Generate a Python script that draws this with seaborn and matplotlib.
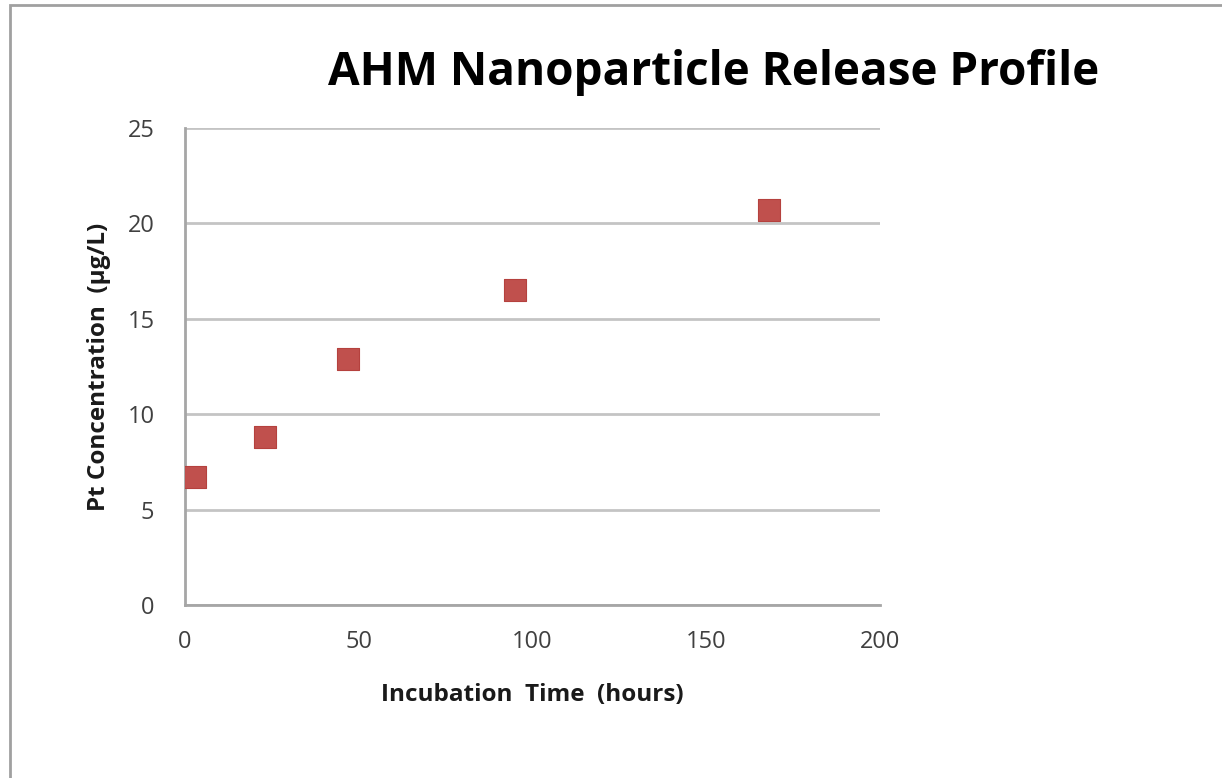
import matplotlib
matplotlib.use("Agg")
import matplotlib.pyplot as plt
import matplotlib.patches as mpatches
import seaborn as sns
import pandas as pd

# Data
time_hours = [3, 23, 47, 95, 168]
pt_conc = [6.7, 8.8, 12.9, 16.5, 20.7]
x_ticks = [0, 50, 100, 150, 200]
y_ticks = [0, 5, 10, 15, 20, 25]

sns.set_theme(style="white")
plt.rcParams['font.family'] = ['Open Sans', 'DejaVu Sans']

fig = plt.figure(figsize=(12.22, 7.78), dpi=100)
ax = fig.add_axes([185/1222, 1-605/778, (880-185)/1222, (605-128)/778])

df = pd.DataFrame({"t": time_hours, "c": pt_conc})
sns.scatterplot(data=df, x="t", y="c", ax=ax, marker="s", s=250,
                color="#C0504D", edgecolor="#B5413E", linewidth=0.8, zorder=3)

ax.set_xlim(0, 200)
ax.set_ylim(0, 25)
ax.set_xticks(x_ticks)
ax.set_yticks(y_ticks)
ax.yaxis.grid(True, color="#C4C4C4", linewidth=2)
ax.xaxis.grid(False)
ax.set_axisbelow(True)
for s in ["top", "right"]:
    ax.spines[s].set_visible(False)
for s in ["left", "bottom"]:
    ax.spines[s].set_color("#A6A6A6")
    ax.spines[s].set_linewidth(2)
ax.tick_params(axis="both", length=0, labelsize=17, labelcolor="#404040")
ax.tick_params(axis="x", pad=18)
ax.tick_params(axis="y", pad=22)

ax.set_xlabel("Incubation  Time  (hours)", fontsize=17.5, fontweight="bold",
              color="#1a1a1a", labelpad=21)
ax.set_ylabel("Pt Concentration  (µg/L)", fontsize=17.5, fontweight="bold",
              color="#1a1a1a", labelpad=12)

fig.text(714/1222, 1-85/778, "AHM Nanoparticle Release Profile",
         ha="center", va="baseline", fontsize=33, fontweight="bold",
         color="black")

# outer frame of the chart
frame = mpatches.Rectangle((10/1222, -0.1), 1.2, 1-5/778+0.1,
                           transform=fig.transFigure, fill=False,
                           edgecolor="#A0A0A0", linewidth=2)
fig.add_artist(frame)

fig.savefig("out.png", dpi=100)
